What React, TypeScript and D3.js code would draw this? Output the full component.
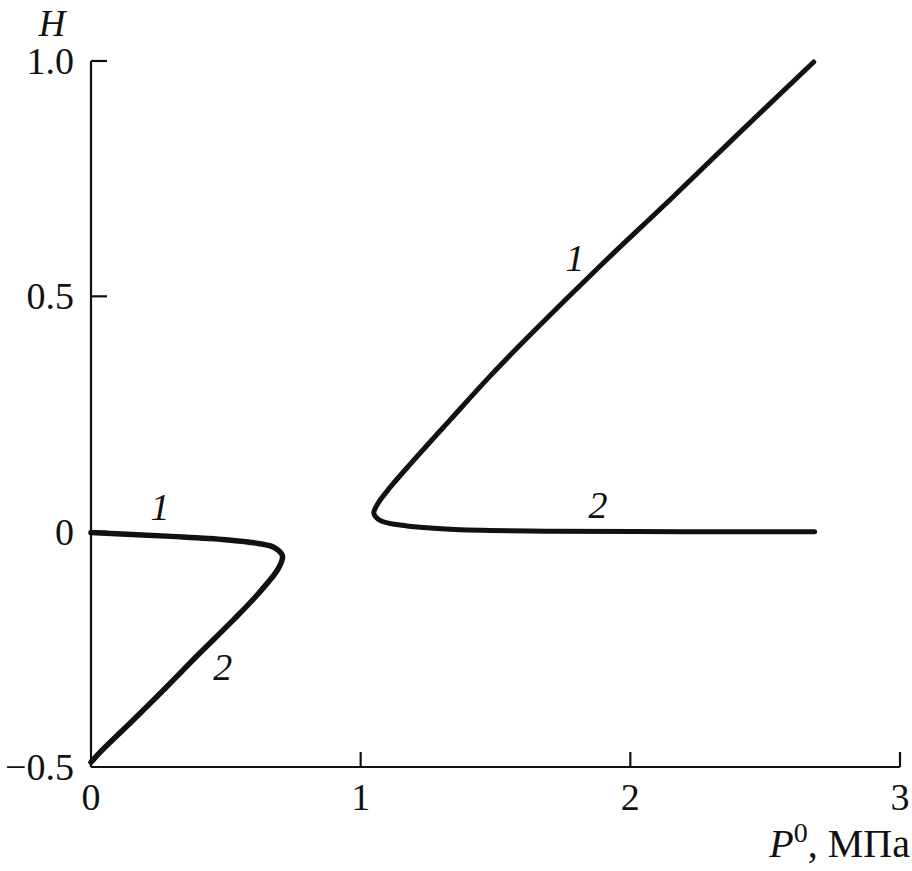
import * as d3 from "d3";

const W = 912;
const H = 871;

// curve through the lower-left loop: branch 1 (upper) then branch 2 (lower)
const leftCurve: [number, number][] = [
  [0.0, -0.002],
  [0.3, -0.01],
  [0.5, -0.017],
  [0.62, -0.025],
  [0.68, -0.034],
  [0.71, -0.052],
  [0.695, -0.078],
  [0.62, -0.132],
  [0.527, -0.188],
  [0.4, -0.26],
  [0.28, -0.33],
  [0.15, -0.404],
  [0.035, -0.468],
  [0.0, -0.49],
];

// curve through the right loop: branch 1 (rising) then branch 2 (flat)
const rightCurve: [number, number][] = [
  [2.68, 0.998],
  [2.38, 0.834],
  [2.158, 0.711],
  [1.887, 0.564],
  [1.639, 0.424],
  [1.479, 0.33],
  [1.331, 0.237],
  [1.183, 0.143],
  [1.109, 0.094],
  [1.064, 0.06],
  [1.049, 0.039],
  [1.072, 0.024],
  [1.146, 0.014],
  [1.331, 0.005],
  [1.702, 0.001],
  [2.2, 0.0],
  [2.684, 0.0],
];

const xTicks = [0, 1, 2, 3];
const yTicks = [-0.5, 0, 0.5, 1.0];
const yTickLabels = ["\u22120.5", "0", "0.5", "1.0"];

const curveLabels = [
  { text: "1", x: 0.256, y: 0.052 },
  { text: "2", x: 0.489, y: -0.288 },
  { text: "1", x: 1.795, y: 0.581 },
  { text: "2", x: 1.88, y: 0.056 },
];

export default function App() {
  const x = d3.scaleLinear().domain([0, 3]).range([91, 900]);
  const y = d3.scaleLinear().domain([-0.5, 1.0]).range([767, 61]);

  const line = d3
    .line<[number, number]>()
    .x((d) => x(d[0]))
    .y((d) => y(d[1]))
    .curve(d3.curveCatmullRom.alpha(0.5));

  const font = "'Liberation Serif', 'DejaVu Serif', serif";

  return (
    <svg
      width={W}
      height={H}
      style={{ position: "absolute", left: 0, top: 0, background: "#fff" }}
    >
      {/* axes */}
      <line x1={x(0)} x2={x(0)} y1={y(1)} y2={y(-0.5)} stroke="#111" strokeWidth={2.2} />
      <line x1={x(0)} x2={x(3)} y1={y(-0.5)} y2={y(-0.5)} stroke="#111" strokeWidth={2.2} />

      {yTicks.map((t, i) => (
        <g key={"y" + t}>
          {t > -0.5 && (
            <line x1={x(0)} x2={x(0) + 16} y1={y(t)} y2={y(t)} stroke="#111" strokeWidth={2.2} />
          )}
          <text
            x={74}
            y={y(t)}
            dy="0.34em"
            textAnchor="end"
            fontFamily={font}
            fontSize={38}
            fill="#111"
          >
            {yTickLabels[i]}
          </text>
        </g>
      ))}

      {xTicks.map((t) => (
        <g key={"x" + t}>
          {t > 0 && (
            <line x1={x(t)} x2={x(t)} y1={y(-0.5)} y2={y(-0.5) - 15} stroke="#111" strokeWidth={2.2} />
          )}
          <text x={x(t)} y={810} textAnchor="middle" fontFamily={font} fontSize={38} fill="#111">
            {t}
          </text>
        </g>
      ))}

      <text x={52} y={36} textAnchor="middle" fontFamily={font} fontSize={37} fontStyle="italic" fill="#111">
        H
      </text>
      <text x={910} y={857} textAnchor="end" fontFamily={font} fontSize={40} fill="#111">
        <tspan fontStyle="italic">P</tspan>
        <tspan fontSize={28} dy={-15}>0</tspan>
        <tspan dy={15}>, МПа</tspan>
      </text>

      <path d={line(leftCurve) ?? ""} fill="none" stroke="#111" strokeWidth={5.5} strokeLinecap="round" strokeLinejoin="round" />
      <path d={line(rightCurve) ?? ""} fill="none" stroke="#111" strokeWidth={5} strokeLinecap="round" strokeLinejoin="round" />

      {curveLabels.map((l, i) => (
        <text
          key={i}
          x={x(l.x)}
          y={y(l.y)}
          dy="0.34em"
          textAnchor="middle"
          fontFamily={font}
          fontSize={38}
          fontStyle="italic"
          fill="#111"
        >
          {l.text}
        </text>
      ))}
    </svg>
  );
}
